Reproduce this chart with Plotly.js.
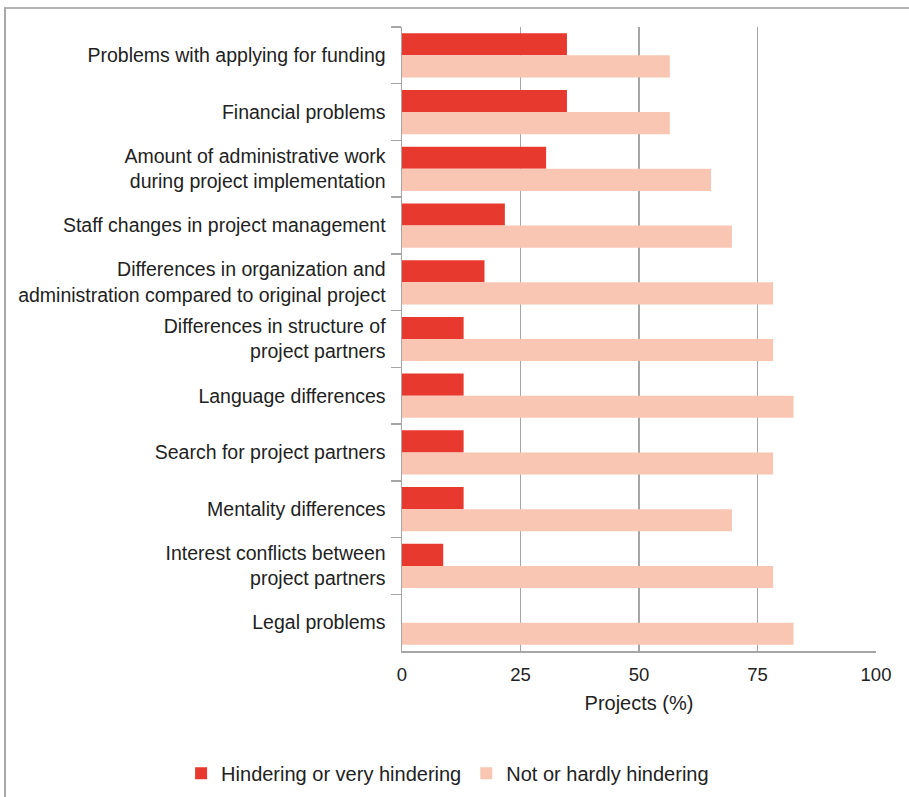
<!DOCTYPE html>
<html>
<head>
<meta charset="utf-8">
<script src="https://cdn.plot.ly/plotly-3.0.1.min.js"></script>
<style>
  html, body { margin: 0; padding: 0; background: #fff; }
  #wrap { position: relative; width: 909px; height: 797px; overflow: hidden; }
  #chart { position: absolute; left: 0; top: 0; width: 909px; height: 797px; }
  #frame { position: absolute; left: 4px; top: 7px; width: 920px; height: 800px;
           border-top: 2px solid #b4b4b4; border-left: 2px solid #a8a8a8; pointer-events: none; }
</style>
</head>
<body>
<div id="wrap">
  <div id="chart"></div>
  <div id="frame"></div>
</div>
<script>
const categories = [
  "Problems with applying for funding",
  "Financial problems",
  "Amount of administrative work<br>during project implementation",
  "Staff changes in project management",
  "Differences in organization and<br>administration compared to original project",
  "Differences in structure of<br>project partners",
  "Language differences",
  "Search for project partners",
  "Mentality differences",
  "Interest conflicts between<br>project partners",
  "Legal problems"
];
const hindering = [34.8, 34.8, 30.4, 21.7, 17.4, 13.0, 13.0, 13.0, 13.0, 8.7, 0];
const notHindering = [56.5, 56.5, 65.2, 69.6, 78.3, 78.3, 82.6, 78.3, 69.6, 78.3, 82.6];
const seriesNames = ["Hindering or very hindering", "Not or hardly hindering"];
const xTicks = [0, 25, 50, 75, 100];

const fam = "Liberation Sans, Arial, Helvetica, sans-serif";
const txt = "#222";

const data = [
  { type: "bar", orientation: "h", y: categories, x: hindering, name: seriesNames[0],
    marker: { color: "#e8392f" } },
  { type: "bar", orientation: "h", y: categories, x: notHindering, name: seriesNames[1],
    marker: { color: "#f8c6b2" } }
];

const layout = {
  width: 909, height: 797,
  margin: { l: 402, r: 33, t: 27, b: 146, autoexpand: false },
  paper_bgcolor: "#fff", plot_bgcolor: "#fff",
  font: { family: fam, size: 18, color: txt },
  barmode: "group",
  bargap: 0.22, bargroupgap: 0,
  showlegend: true,
  legend: { orientation: "h", xref: "paper", x: -0.466, xanchor: "left",
            y: -0.196, yanchor: "middle",
            font: { family: fam, size: 20, color: txt },
            traceorder: "normal", itemwidth: 30, tracegroupgap: 0 },
  xaxis: {
    range: [0, 100], tickvals: xTicks, ticktext: xTicks.map(String),
    showgrid: true, gridcolor: "#a6a6a6", gridwidth: 1.5,
    showline: true, linecolor: "#a6a6a6", linewidth: 1.5,
    zeroline: false, ticks: "", ticklabelstandoff: 6, automargin: false,
    tickfont: { family: fam, size: 18.5, color: txt },
    title: { text: "Projects (%)", font: { family: fam, size: 20, color: txt }, standoff: 12 }
  },
  yaxis: {
    type: "category", autorange: "reversed", automargin: false,
    showline: true, linecolor: "#a6a6a6", linewidth: 1.5,
    ticks: "outside", tickson: "boundaries", ticklen: 10, tickcolor: "#a6a6a6", tickwidth: 1.5,
    showgrid: false, zeroline: false,
    tickfont: { family: fam, size: 19.5, color: txt }, ticklabelstandoff: 11
  }
};

Plotly.newPlot("chart", data, layout, { displayModeBar: false, staticPlot: true });
</script>
</body>
</html>
